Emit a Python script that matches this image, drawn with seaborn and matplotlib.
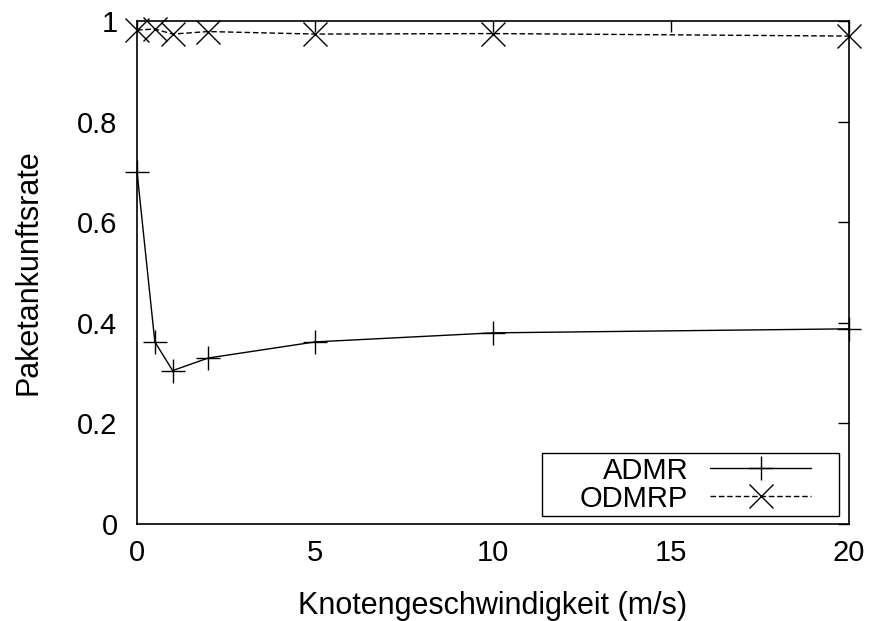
import matplotlib
matplotlib.use("Agg")
import matplotlib.pyplot as plt
from matplotlib.patches import Rectangle
import seaborn as sns
import pandas as pd

# Node speed (m/s) and packet delivery ratio per protocol
speeds = [0, 0.5, 1, 2, 5, 10, 20]
admr = [0.70, 0.362, 0.305, 0.330, 0.362, 0.380, 0.388]
odmrp = [0.982, 0.984, 0.974, 0.979, 0.974, 0.975, 0.970]

x_ticks = [0, 5, 10, 15, 20]
y_ticks = [0, 0.2, 0.4, 0.6, 0.8, 1]
y_tick_labels = ["0", "0.2", "0.4", "0.6", "0.8", "1"]

sns.set_style("white")
plt.rcParams["font.family"] = ["Liberation Sans", "DejaVu Sans"]
plt.rcParams["text.color"] = "black"
plt.rcParams["axes.labelcolor"] = "black"

fig = plt.figure(figsize=(8.69, 6.21), dpi=100)
ax = fig.add_axes([0.1577, 0.1562, 0.8193, 0.81])

df_admr = pd.DataFrame({"speed": speeds, "pdr": admr})
df_odmrp = pd.DataFrame({"speed": speeds, "pdr": odmrp})

sns.lineplot(data=df_admr, x="speed", y="pdr", ax=ax, color="black",
             linewidth=1.0, marker="+", markersize=17, markeredgewidth=1.0,
             markeredgecolor="black", label="ADMR", clip_on=False)
sns.lineplot(data=df_odmrp, x="speed", y="pdr", ax=ax, color="black",
             linewidth=1.0, marker="x", markersize=17, markeredgewidth=1.0,
             markeredgecolor="black", label="ODMRP", clip_on=False)
ax.lines[1].set_linestyle((0, (4, 2)))

ax.set_xlim(0, 20)
ax.set_ylim(0, 1)
ax.set_xticks(x_ticks)
ax.set_xticklabels([str(t) for t in x_ticks])
ax.set_yticks(y_ticks)
ax.set_yticklabels(y_tick_labels)

ax.tick_params(axis="both", which="both", direction="in", length=8, width=1,
               top=True, right=True, labelsize=21, colors="black")
ax.tick_params(axis="y", pad=14)
ax.tick_params(axis="x", pad=11)
for sp in ax.spines.values():
    sp.set_color("black")
    sp.set_linewidth(1.2)

ax.set_xlabel("Knotengeschwindigkeit (m/s)", fontsize=22, labelpad=17,
              color="black")
ax.set_ylabel("Paketankunftsrate", fontsize=22, labelpad=24, color="black")

# Key box with text placed before the sample line
key_box = Rectangle((0.569, 0.016), 0.417, 0.125, transform=ax.transAxes,
                    fill=False, edgecolor="black", linewidth=1.0, zorder=5)
ax.add_patch(key_box)
leg = ax.legend(loc="center right", bbox_to_anchor=(0.9466, 0.0785),
                markerfirst=False, fontsize=21, handlelength=3.45,
                frameon=False, borderpad=0.0, labelspacing=0.0,
                handletextpad=0.76, borderaxespad=0)
for t in leg.get_texts():
    t.set_ha("right")
    t.set_color("black")

fig.savefig("out.png", dpi=100)
